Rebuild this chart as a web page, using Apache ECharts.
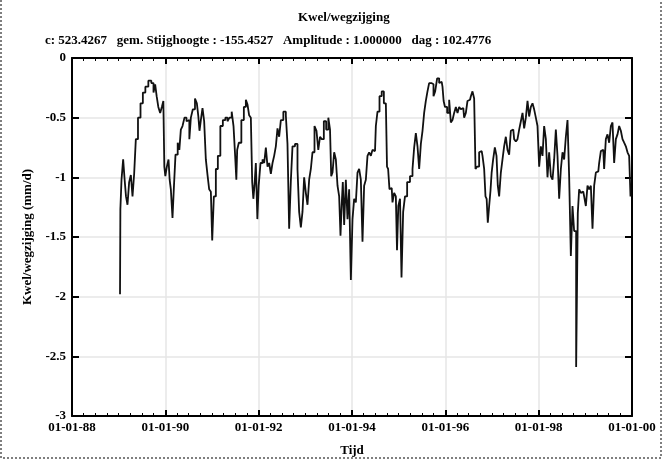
<!DOCTYPE html>
<html>
<head>
<meta charset="utf-8">
<script src="https://cdn.jsdelivr.net/npm/echarts@6/dist/echarts.min.js"></script>
<style>
  html, body { margin: 0; padding: 0; background: #fff; }
  #chart { width: 663px; height: 462px; }
</style>
</head>
<body>
<div id="chart"></div>
<script>
// tijd in decimale jaren, kwel in mm/d
const tijd = [
  1989.029, 1989.044, 1989.078, 1989.114, 1989.142, 1989.172, 1989.206, 1989.243, 1989.279, 1989.314,
  1989.350, 1989.386, 1989.442, 1989.494, 1989.543, 1989.601, 1989.671, 1989.729, 1989.764, 1989.800,
  1989.828, 1989.871, 1989.907, 1989.944, 1989.971, 1989.986, 1990.014, 1990.051, 1990.085, 1990.100,
  1990.136, 1990.171, 1990.192, 1990.244, 1990.286, 1990.314, 1990.351, 1990.385, 1990.436, 1990.471,
  1990.500, 1990.529, 1990.565, 1990.614, 1990.657, 1990.694, 1990.721, 1990.743, 1990.779, 1990.814,
  1990.850, 1990.886, 1990.921, 1990.957, 1990.994, 1991.015, 1991.064, 1991.101, 1991.150, 1991.208,
  1991.257, 1991.315, 1991.349, 1991.400, 1991.444, 1991.478, 1991.514, 1991.529, 1991.550, 1991.600,
  1991.658, 1991.707, 1991.744, 1991.778, 1991.814, 1991.851, 1991.872, 1991.900, 1991.921, 1991.958,
  1991.986, 1992.014, 1992.065, 1992.100, 1992.136, 1992.172, 1992.207, 1992.243, 1992.279, 1992.314,
  1992.350, 1992.386, 1992.421, 1992.457, 1992.494, 1992.564, 1992.600, 1992.635, 1992.671, 1992.708,
  1992.742, 1992.815, 1992.849, 1992.886, 1992.922, 1992.956, 1992.993, 1993.029, 1993.064, 1993.100,
  1993.136, 1993.171, 1993.222, 1993.256, 1993.299, 1993.329, 1993.372, 1993.421, 1993.471, 1993.514,
  1993.544, 1993.565, 1993.600, 1993.636, 1993.672, 1993.707, 1993.743, 1993.764, 1993.792, 1993.814,
  1993.850, 1993.886, 1993.921, 1993.957, 1993.994, 1994.028, 1994.064, 1994.101, 1994.135, 1994.171,
  1994.208, 1994.242, 1994.278, 1994.315, 1994.349, 1994.386, 1994.422, 1994.456, 1994.493, 1994.529,
  1994.564, 1994.615, 1994.658, 1994.707, 1994.744, 1994.756, 1994.792, 1994.814, 1994.851, 1994.885,
  1994.921, 1994.958, 1994.971, 1995.014, 1995.044, 1995.078, 1995.114, 1995.157, 1995.206, 1995.279,
  1995.314, 1995.350, 1995.386, 1995.421, 1995.457, 1995.494, 1995.528, 1995.564, 1995.600, 1995.635,
  1995.671, 1995.729, 1995.764, 1995.800, 1995.849, 1995.886, 1995.922, 1995.956, 1995.971, 1996.014,
  1996.064, 1996.100, 1996.136, 1996.171, 1996.207, 1996.244, 1996.278, 1996.314, 1996.351, 1996.385,
  1996.421, 1996.458, 1996.492, 1996.529, 1996.565, 1996.599, 1996.636, 1996.657, 1996.706, 1996.743,
  1996.779, 1996.814, 1996.850, 1996.871, 1996.899, 1996.921, 1996.957, 1996.979, 1997.006, 1997.043,
  1997.079, 1997.114, 1997.135, 1997.171, 1997.208, 1997.242, 1997.278, 1997.315, 1997.349, 1997.386,
  1997.422, 1997.456, 1997.493, 1997.529, 1997.564, 1997.600, 1997.637, 1997.671, 1997.707, 1997.744,
  1997.778, 1997.814, 1997.851, 1997.885, 1997.921, 1997.958, 1997.992, 1998.029, 1998.065, 1998.099,
  1998.136, 1998.172, 1998.206, 1998.243, 1998.279, 1998.314, 1998.350, 1998.386, 1998.421, 1998.457,
  1998.494, 1998.528, 1998.564, 1998.601, 1998.635, 1998.671, 1998.708, 1998.742, 1998.778, 1998.828,
  1998.849, 1998.886, 1998.922, 1998.956, 1998.993, 1999.029, 1999.064, 1999.100, 1999.136, 1999.171,
  1999.207, 1999.244, 1999.278, 1999.314, 1999.351, 1999.385, 1999.421, 1999.458, 1999.492, 1999.529,
  1999.565, 1999.599, 1999.636, 1999.672, 1999.707, 1999.743, 1999.779, 1999.814, 1999.850, 1999.886,
  1999.921, 1999.957, 1999.979
]
const kwel = [
  -1.98, -1.27, -1.02, -0.85, -1.02, -1.16, -1.23, -1.04, -0.98, -1.16,
  -0.97, -0.68, -0.50, -0.38, -0.29, -0.24, -0.19, -0.21, -0.29, -0.22,
  -0.32, -0.41, -0.46, -0.41, -0.36, -0.91, -0.99, -0.91, -0.85, -1.02,
  -1.10, -1.34, -1.10, -0.81, -0.71, -0.77, -0.60, -0.57, -0.50, -0.53,
  -0.52, -0.68, -0.50, -0.43, -0.34, -0.38, -0.49, -0.61, -0.52, -0.42,
  -0.53, -0.85, -0.98, -1.10, -1.12, -1.53, -1.16, -0.93, -0.82, -0.57,
  -0.52, -0.50, -0.53, -0.50, -0.45, -0.57, -0.82, -1.02, -0.77, -0.71,
  -0.52, -0.41, -0.35, -0.39, -0.48, -0.50, -1.04, -1.18, -1.07, -0.88,
  -1.35, -1.07, -0.88, -0.85, -0.88, -0.75, -0.91, -0.88, -0.97, -0.88,
  -0.82, -0.74, -0.59, -0.66, -0.52, -0.45, -0.48, -0.72, -1.43, -1.03,
  -0.74, -0.72, -0.93, -1.29, -1.42, -1.29, -1.00, -1.13, -1.23, -1.02,
  -0.93, -0.79, -0.57, -0.61, -0.77, -0.66, -0.68, -0.53, -0.60, -0.50,
  -0.60, -0.99, -0.96, -0.79, -0.85, -1.07, -1.16, -1.49, -1.24, -1.04,
  -1.40, -1.02, -1.35, -1.10, -1.86, -1.35, -1.18, -1.21, -0.96, -0.93,
  -1.02, -1.54, -1.07, -1.02, -0.82, -0.79, -0.82, -0.77, -0.78, -0.57,
  -0.45, -0.32, -0.28, -0.38, -0.39, -0.91, -0.93, -1.10, -1.09, -1.21,
  -1.13, -1.16, -1.61, -1.24, -1.18, -1.84, -1.29, -1.16, -1.04, -0.99,
  -0.93, -0.75, -0.63, -0.74, -0.93, -0.72, -0.61, -0.46, -0.36, -0.28,
  -0.21, -0.22, -0.32, -0.28, -0.17, -0.21, -0.20, -0.24, -0.36, -0.41,
  -0.46, -0.35, -0.54, -0.52, -0.46, -0.41, -0.46, -0.41, -0.43, -0.42,
  -0.50, -0.46, -0.36, -0.35, -0.32, -0.28, -0.34, -0.93, -0.91, -0.79,
  -0.78, -0.82, -0.93, -1.16, -1.18, -1.38, -1.24, -1.11, -0.96, -0.85,
  -0.75, -0.82, -1.07, -1.16, -0.96, -0.85, -0.74, -0.66, -0.77, -0.81,
  -0.61, -0.60, -0.68, -0.70, -0.68, -0.60, -0.53, -0.46, -0.59, -0.50,
  -0.36, -0.49, -0.41, -0.38, -0.43, -0.50, -0.57, -0.91, -0.74, -0.82,
  -0.57, -0.68, -1.00, -0.79, -0.99, -1.02, -0.85, -0.60, -0.82, -1.18,
  -0.93, -0.79, -0.85, -0.66, -0.52, -0.99, -1.66, -1.24, -1.45, -2.59,
  -1.30, -1.10, -1.13, -1.12, -1.16, -1.24, -1.07, -1.10, -1.07, -1.43,
  -1.07, -0.96, -0.95, -0.88, -0.78, -0.77, -0.93, -0.68, -0.64, -0.71,
  -0.57, -0.54, -0.88, -0.68, -0.64, -0.57, -0.61, -0.68, -0.71, -0.74,
  -0.79, -0.82, -1.16
]
const xTicks = [1988, 1990, 1992, 1994, 1996, 1998, 2000]
const yTicks = [0, -0.5, -1, -1.5, -2, -2.5, -3]

const titel = 'Kwel/wegzijging'
const ondertitel = 'c: 523.4267   gem. Stijghoogte : -155.4527   Amplitude : 1.000000   dag : 102.4776'

const font = 'Liberation Serif'
const chart = echarts.init(document.getElementById('chart'), null, { renderer: 'canvas' })

const grid = { left: 72, right: 31, top: 58, bottom: 44 }
const gridLine = { show: true, lineStyle: { color: '#e6e6e6', width: 1.5 } }
const tekst = { fontFamily: font, fontWeight: 'bold', fontSize: 13, color: '#000' }

function datumLabel(v) {
  return '01-01-' + String(v).slice(2)
}

const option = {
  animation: false,
  backgroundColor: '#fff',
  title: [
    { text: titel, left: 293, top: 6, textStyle: tekst },
    { text: ondertitel, left: 40, top: 29, textStyle: tekst },
  ],
  grid: grid,
  xAxis: [
    {
      type: 'value',
      min: xTicks[0],
      max: xTicks[xTicks.length - 1],
      interval: 2,
      name: 'Tijd',
      nameLocation: 'middle',
      nameGap: 28,
      nameTextStyle: tekst,
      axisLine: { show: true, onZero: false, lineStyle: { color: '#000', width: 2 } },
      axisTick: { show: true, inside: true, length: 6, lineStyle: { color: '#000', width: 2 } },
      minorTick: { show: true, splitNumber: 8, length: 3, lineStyle: { color: '#000', width: 1 } },
      axisLabel: Object.assign({ formatter: datumLabel, margin: 5 }, tekst),
      splitLine: gridLine,
    },
    {
      type: 'value',
      position: 'top',
      min: xTicks[0],
      max: xTicks[xTicks.length - 1],
      interval: 2,
      axisLine: { show: true, onZero: false, lineStyle: { color: '#000', width: 2 } },
      axisTick: { show: true, inside: true, length: 6, lineStyle: { color: '#000', width: 2 } },
      minorTick: { show: true, splitNumber: 8, length: 3, lineStyle: { color: '#000', width: 1 } },
      axisLabel: { show: false },
      splitLine: { show: false },
    },
  ],
  yAxis: [
    {
      type: 'value',
      min: yTicks[yTicks.length - 1],
      max: yTicks[0],
      interval: 0.5,
      name: 'Kwel/wegzijging (mm/d)',
      nameLocation: 'middle',
      nameGap: 37,
      nameTextStyle: tekst,
      axisLine: { show: true, onZero: false, lineStyle: { color: '#000', width: 2 } },
      axisTick: { show: true, inside: true, length: 7, lineStyle: { color: '#000', width: 2 } },
      axisLabel: Object.assign({ margin: 6 }, tekst),
      splitLine: gridLine,
    },
    {
      type: 'value',
      position: 'right',
      min: yTicks[yTicks.length - 1],
      max: yTicks[0],
      interval: 0.5,
      axisLine: { show: true, onZero: false, lineStyle: { color: '#000', width: 2 } },
      axisTick: { show: true, inside: true, length: 7, lineStyle: { color: '#000', width: 2 } },
      axisLabel: { show: false },
      splitLine: { show: false },
    },
  ],
  series: [
    {
      type: 'line',
      step: 'middle',
      data: tijd.map((t, i) => [t, kwel[i]]),
      showSymbol: false,
      lineStyle: { color: '#111', width: 1.8 },
      silent: true,
    },
  ],
  graphic: [
    {
      type: 'polyline',
      shape: { points: [[1, 0], [1, 458], [661, 458], [661, 0]] },
      style: { stroke: '#555', lineWidth: 1.5, lineDash: [2, 2], fill: null },
      silent: true,
    },
  ],
}

chart.setOption(option)
</script>
</body>
</html>
